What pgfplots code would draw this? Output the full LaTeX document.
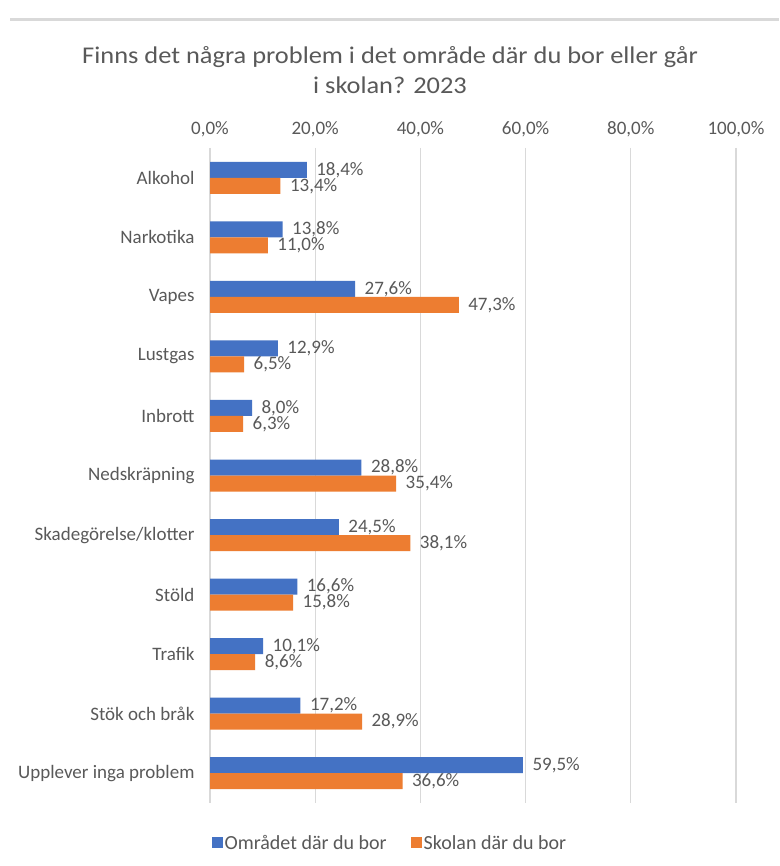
\documentclass[border=0pt]{standalone}
\usepackage{pgfplots}
\pgfplotsset{compat=1.18}
\usepackage{fontspec}
\setmainfont{Carlito}
\newfontfamily\titlefont{Carlito}[FakeStretch=1.1]
\definecolor{blueS}{HTML}{4472C4}
\definecolor{orangeS}{HTML}{ED7D31}
\definecolor{txt}{HTML}{595959}
\definecolor{gridc}{HTML}{D9D9D9}
\begin{document}
\begin{tikzpicture}[x=1pt,y=1pt]
\useasboundingbox (0,0) rectangle (779,866);
\fill[white] (0,0) rectangle (779,866);
\draw[gridc, line width=3pt] (10,846) -- (779,846);
\node[txt, font=\titlefont\fontsize{24}{30}\selectfont, align=center] at (390,796) {Finns det några problem i det område där du bor eller går\\i skolan? 2023};
\begin{axis}[
  at={(210pt,63pt)}, anchor=south west,
  scale only axis, width=526pt, height=655pt,
  xbar=0pt, bar width=16pt,
  xmin=0, xmax=100, ymin=-0.5, ymax=10.5, y dir=reverse,
  axis line style={draw=none},
  major tick length=0pt,
  xticklabel pos=upper,
  xtick={0,20,40,60,80,100},
  xticklabel={\pgfmathprintnumber[fixed,fixed zerofill,precision=1,use comma]{\tick}\%},
  /pgf/number format/assume math mode=true,
  xmajorgrids, grid style={gridc, line width=1.2pt},
  ytick={0,...,10},
  yticklabels={Alkohol,Narkotika,Vapes,Lustgas,Inbrott,Nedskräpning,Skadegörelse/klotter,Stöld,Trafik,Stök och bråk,Upplever inga problem},
  tick label style={txt, font=\fontsize{19}{22}\selectfont},
  xticklabel style={yshift=8pt},
  yticklabel style={xshift=-12pt},
  nodes near coords={\pgfmathprintnumber[fixed,fixed zerofill,precision=1,use comma,assume math mode=true]{\pgfplotspointmeta}\%},
  nodes near coords style={txt, font=\fontsize{19}{22}\selectfont, anchor=west, xshift=6pt, inner ysep=0pt},
  point meta=x,
  legend style={at={(0.342,-0.061)}, anchor=center, draw=none, legend columns=2,
    font=\fontsize{20}{22}\selectfont, text=txt,
    /tikz/every even column/.style={column sep=22pt}},
  clip=false,
]
\addplot[fill=blueS, draw=none, bar shift=8pt, legend image code/.code={\fill[blueS] (0pt,-5.5pt) rectangle (11pt,5.5pt);}] coordinates {
(18.4,0) (13.8,1) (27.6,2) (12.9,3) (8.0,4) (28.8,5) (24.5,6) (16.6,7) (10.1,8) (17.2,9) (59.5,10)};
\addplot[fill=orangeS, draw=none, bar shift=-8pt, legend image code/.code={\fill[orangeS] (0pt,-5.5pt) rectangle (11pt,5.5pt);}] coordinates {
(13.4,0) (11.0,1) (47.3,2) (6.5,3) (6.3,4) (35.4,5) (38.1,6) (15.8,7) (8.6,8) (28.9,9) (36.6,10)};
\legend{Området där du bor, Skolan där du bor}
\end{axis}
\end{tikzpicture}
\end{document}
